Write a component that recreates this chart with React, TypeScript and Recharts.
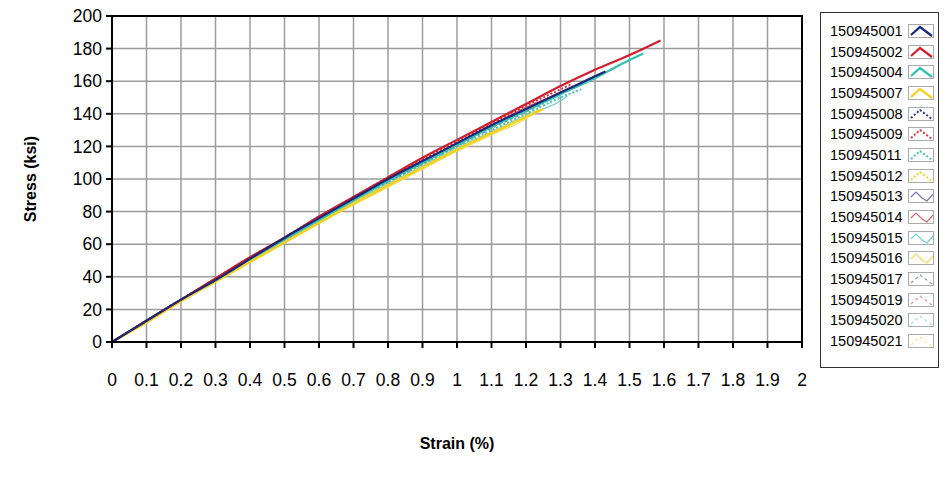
import {
  LineChart,
  Line,
  CartesianGrid,
  XAxis,
  YAxis,
  ReferenceArea,
} from "recharts";

// strain ticks (%) and stress ticks (ksi)
const strainTicks = [
  0, 0.1, 0.2, 0.3, 0.4, 0.5, 0.6, 0.7, 0.8, 0.9, 1, 1.1, 1.2, 1.3, 1.4, 1.5,
  1.6, 1.7, 1.8, 1.9, 2,
];
const strainLabels = [
  "0", "0.1", "0.2", "0.3", "0.4", "0.5", "0.6", "0.7", "0.8", "0.9", "1",
  "1.1", "1.2", "1.3", "1.4", "1.5", "1.6", "1.7", "1.8", "1.9", "2",
];
const stressTicks = [0, 20, 40, 60, 80, 100, 120, 140, 160, 180, 200];

const specimens = [
  "150945001", "150945002", "150945004", "150945007", "150945008",
  "150945009", "150945011", "150945012", "150945013", "150945014",
  "150945015", "150945016", "150945017", "150945019", "150945020",
  "150945021",
];

// stress read at strain 0, 0.1, 0.2 ... then the last reading of each test
const s001 = [0, 13, 26, 38, 51, 64, 76, 88, 100, 111, 122, 133, 143, 153, 163];
const s002 = [0, 13, 26, 39, 52, 64, 77, 89, 101, 113, 124, 135, 146, 157, 167, 176];
const s004 = [0, 13, 26, 38, 51, 63, 75, 87, 99, 110, 121, 132, 142, 152, 162, 173];
const s007 = [0, 12, 25, 37, 49, 61, 73, 85, 96, 107, 118, 128, 138];
const s008 = [0, 13, 26, 38, 51, 63, 76, 88, 99, 110, 121, 132, 142];
const s009 = [0, 13, 26, 39, 52, 64, 77, 89, 101, 112, 123, 134, 145, 155];
const s011 = [0, 13, 26, 38, 51, 63, 75, 87, 98, 109, 120, 130, 140, 150];
const s012 = [0, 12, 25, 37, 50, 62, 74, 86, 97, 108, 119, 129, 139];
const s013 = [0, 13, 26, 38, 51, 63, 75, 87, 99, 110, 121, 132, 142];
const s014 = [0, 13, 26, 39, 51, 64, 76, 88, 100, 111, 122, 133, 144];
const s015 = [0, 13, 25, 38, 50, 62, 74, 86, 97, 108, 119, 129, 139, 148];
const s016 = [0, 12, 25, 37, 49, 61, 73, 84, 95, 106, 117, 127, 137];
const s017 = [0, 13, 26, 38, 50, 62, 75, 87, 98, 109, 120, 131, 141];
const s019 = [0, 13, 26, 39, 51, 64, 76, 88, 100, 111, 122, 133, 144];
const s020 = [0, 13, 26, 38, 51, 63, 75, 87, 98, 109, 120, 131, 141, 151];
const s021 = [0, 12, 25, 37, 49, 61, 73, 85, 96, 107, 118, 128];

const stressValues = [
  s001, s002, s004, s007, s008, s009, s011, s012, s013, s014, s015, s016,
  s017, s019, s020, s021,
];
const endStrain = [
  1.43, 1.59, 1.54, 1.25, 1.28, 1.33, 1.36, 1.24, 1.26, 1.28, 1.32, 1.22,
  1.25, 1.27, 1.33, 1.16,
];
const endStress = [
  166, 185, 177, 143, 150, 158, 155, 143, 148, 151, 151, 140, 146, 150, 158,
  133,
];

const colors = [
  "#1c2676", "#d01f2c", "#33bfae", "#f6d11c",
  "#2b3a8c", "#d8343f", "#46c4b8", "#f3d52e",
  "#6f76ac", "#d4646c", "#74cdd2", "#f2da6a",
  "#8c92bc", "#e6949a", "#a4dde2", "#f6e59a",
];

const lineStyle = (i: number) => {
  if (i < 4) return { width: 2.2, dash: undefined };
  if (i < 8) return { width: 2, dash: "2 2" };
  if (i < 12) return { width: 1.2, dash: undefined };
  return { width: 1.2, dash: "3 3" };
};

const makeData = (i: number) => {
  const pts = stressValues[i].map((y, k) => ({ x: k / 10, y }));
  pts.push({ x: endStrain[i], y: endStress[i] });
  return pts;
};

const font = "'Liberation Sans', Arial, sans-serif";

const LegendIcon = ({ i }: { i: number }) => {
  const st = lineStyle(i);
  const wave = i >= 8 && i < 12;
  return (
    <svg width={26} height={14} style={{ display: "block" }}>
      <rect x={0.5} y={0.5} width={25} height={13} fill="#fff" stroke="#aaa" />
      <polyline
        points={wave ? "3,8 8,3 14,9 19,12 25,5" : "3,11 12,3 24,12"}
        fill="none"
        stroke={colors[i]}
        strokeWidth={st.width}
        strokeDasharray={st.dash}
      />
    </svg>
  );
};

const App = () => {
  const order = specimens.map((_, i) => i).reverse();
  return (
    <div
      style={{
        position: "relative",
        margin: -8,
        width: 948,
        height: 490,
        overflow: "hidden",
        fontFamily: font,
      }}
    >
      <LineChart
        width={948}
        height={490}
        margin={{ top: 16, right: 146, bottom: 0, left: 0 }}
        style={{ fontFamily: font }}
      >
        <CartesianGrid stroke="#9c9c9c" strokeWidth={1.5} vertical horizontal />
        <XAxis
          type="number"
          dataKey="x"
          domain={[0, 2]}
          ticks={strainTicks}
          tickFormatter={(v: number) => strainLabels[strainTicks.indexOf(v)] ?? String(v)}
          interval={0}
          height={148}
          tickSize={6}
          tickMargin={26}
          stroke="#000"
          strokeWidth={2}
          tick={{ fill: "#000", fontSize: 17.5 }}
          allowDuplicatedCategory={false}
          label={{
            value: "Strain (%)",
            position: "insideBottom",
            offset: 41,
            style: { fontWeight: "bold", fontSize: 16, fill: "#000" },
          }}
        />
        <YAxis
          type="number"
          domain={[0, 200]}
          ticks={stressTicks}
          interval={0}
          width={112}
          tickSize={6}
          tickMargin={4}
          stroke="#000"
          strokeWidth={2}
          tick={{ fill: "#000", fontSize: 17.5 }}
          label={{
            value: "Stress (ksi)",
            angle: -90,
            position: "insideLeft",
            offset: 30,
            style: { fontWeight: "bold", fontSize: 16, fill: "#000", textAnchor: "middle" },
          }}
        />
        <ReferenceArea
          x1={0}
          x2={2}
          y1={0}
          y2={200}
          fill="none"
          stroke="#000"
          strokeWidth={2}
          ifOverflow="visible"
        />
        {order.map((i) => {
          const st = lineStyle(i);
          return (
            <Line
              key={specimens[i]}
              data={makeData(i)}
              dataKey="y"
              name={specimens[i]}
              type="monotone"
              stroke={colors[i]}
              strokeWidth={st.width}
              strokeDasharray={st.dash}
              dot={false}
              isAnimationActive={false}
            />
          );
        })}
      </LineChart>
      <div
        style={{
          position: "absolute",
          left: 820,
          top: 12,
          width: 119,
          height: 356,
          border: "1px solid #333",
          background: "#fff",
          paddingTop: 7.5,
          boxSizing: "border-box",
        }}
      >
        {specimens.map((name, i) => (
          <div
            key={name}
            style={{
              display: "flex",
              alignItems: "center",
              height: 20.7,
              fontSize: 14.5,
              color: "#000",
              paddingLeft: 9,
              whiteSpace: "nowrap",
            }}
          >
            <span style={{ width: 78 }}>{name}</span>
            <LegendIcon i={i} />
          </div>
        ))}
      </div>
    </div>
  );
};

export default App;
